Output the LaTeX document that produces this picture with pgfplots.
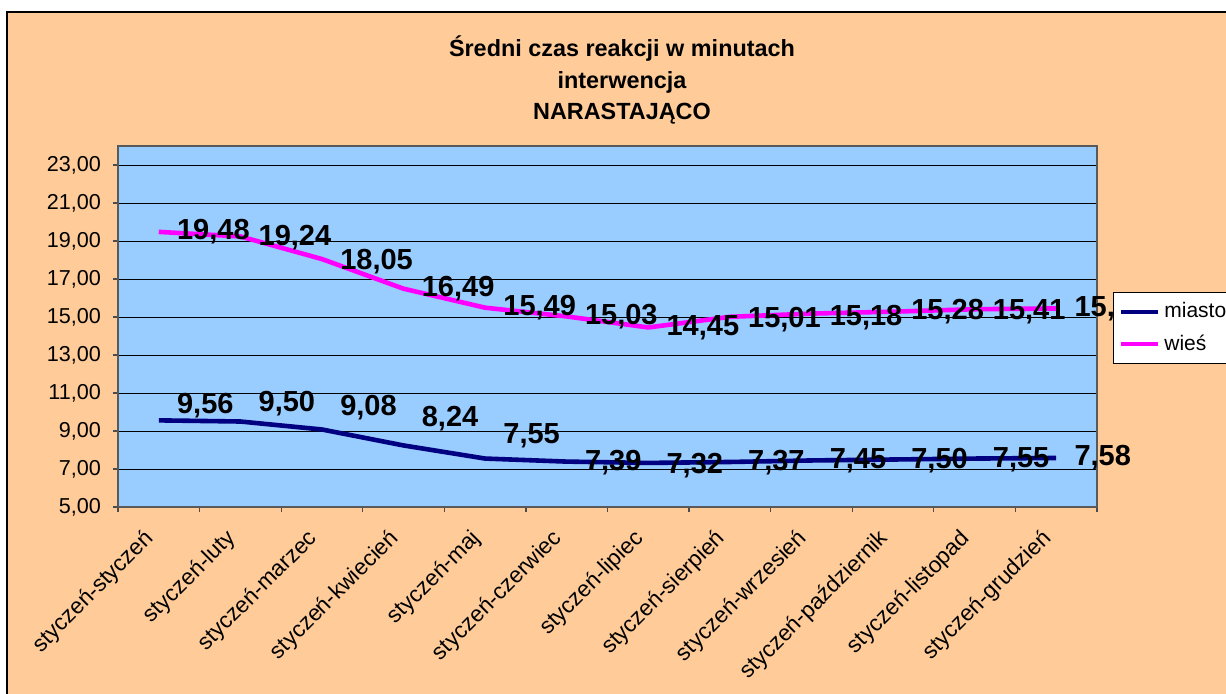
\documentclass[border=0pt]{standalone}
\usepackage{fontspec}
\setmainfont{Liberation Sans}
\usepackage{pgfplots}
\pgfplotsset{compat=1.18}
\usepackage{pgfplotstable}
\definecolor{bgor}{HTML}{FFCC99}
\definecolor{plotbl}{HTML}{99CCFF}
\definecolor{navy}{HTML}{000080}
\definecolor{mag}{HTML}{FF00FF}

\pgfplotstableread{
x y dy
0.5 9.56 7.5
1.5 9.50 9
2.5 9.08 11
3.5 8.24 13.5
4.5 7.55 11.5
5.5 7.39 -0.5
6.5 7.32 -1.5
7.5 7.37 -0.5
8.5 7.45 0
9.5 7.50 -0.5
10.5 7.55 -0.5
11.5 7.58 0
}\miasto

\pgfplotstableread{
x y dy
0.5 19.48 0
1.5 19.24 -0.5
2.5 18.05 -1.5
3.5 16.49 0
4.5 15.49 0
5.5 15.03 0
6.5 14.45 0
7.5 15.01 -1.5
8.5 15.18 -2
9.5 15.28 0
10.5 15.41 -1.5
11.5 15.45 0
}\wies

\pgfkeys{/pgf/number format/.cd, fixed, fixed zerofill, precision=2, use comma, assume math mode=true}

\begin{document}
\begin{tikzpicture}
\useasboundingbox (0,0) rectangle (613pt,346.5pt);
\clip (0,0) rectangle (613pt,346.5pt);
\fill[white] (0,0) rectangle (613pt,346.5pt);
\fill[bgor] (3.5pt,-2pt) rectangle (620pt,340.5pt);
\draw[black, line width=1pt] (3.5pt,-2pt) -- (3.5pt,340.5pt) -- (620pt,340.5pt);
\node[align=center, font=\bfseries\fontsize{11.7}{15.7}\selectfont] at (311pt,306.5pt) {Średni czas reakcji w minutach\\interwencja\\NARASTAJĄCO};
\begin{axis}[
  at={(59pt,93pt)}, anchor=south west, scale only axis,
  width=489.5pt, height=180.5pt,
  xmin=0, xmax=12, ymin=5, ymax=24,
  ytick={5,7,...,23},
  xtick={0,...,12}, xticklabels={},
  extra x ticks={0.5,1.5,...,11.5},
  extra x tick labels={styczeń-styczeń,styczeń-luty,styczeń-marzec,styczeń-kwiecień,styczeń-maj,styczeń-czerwiec,styczeń-lipiec,styczeń-sierpień,styczeń-wrzesień,styczeń-październik,styczeń-listopad,styczeń-grudzień},
  extra x tick style={major tick length=0pt, grid=none,
     xticklabel style={font=\fontsize{11.3}{13}\selectfont, xshift=-4pt, yshift=-14pt, rotate=45, anchor=east, inner sep=0pt}},
  xtick pos=bottom, ytick pos=left,
  tick align=outside, major tick length=2.5pt,
  ymajorgrids, xmajorgrids=false,
  major grid style={black, line width=0.5pt},
  axis background/.style={fill=plotbl},
  axis line style={draw=gray!70!black, line width=0.8pt},
  tick style={draw=gray!60!black, line width=0.6pt},
  yticklabel style={font=\fontsize{10.8}{12}\selectfont, xshift=-2.5pt},
  clip=false,
  legend style={at={(1.0163,0.5956)}, anchor=north west, draw=black, fill=white,
    font=\fontsize{10.5}{12}\selectfont, inner xsep=3pt, inner ysep=3pt, row sep=3pt,
    cells={anchor=west}},
  legend image code/.code={\draw[#1, line width=2pt] (0pt,0pt) -- (18.5pt,0pt);},
  visualization depends on={\thisrow{dy} \as \labdy},
  nodes near coords,
  nodes near coords style={anchor=west, inner sep=0pt, xshift=8pt, yshift=\labdy pt,
     font=\bfseries\fontsize{14.5}{16}\selectfont, text=black},
]
\addplot[navy, line width=2.3pt, line join=round] table[x=x,y=y] {\miasto};
\addlegendentry{miasto}
\addplot[mag, line width=2.3pt, line join=round] table[x=x,y=y] {\wies};
\addlegendentry{wieś}
\end{axis}
\end{tikzpicture}
\end{document}
